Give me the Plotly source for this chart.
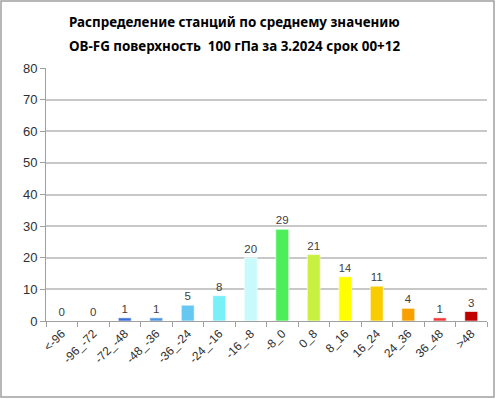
import plotly.graph_objects as go

categories = ["<-96", "-96_-72", "-72_-48", "-48_-36", "-36_-24", "-24_-16", "-16_-8",
              "-8_0", "0_8", "8_16", "16_24", "24_36", "36_48", ">48"]
counts = [0, 0, 1, 1, 5, 8, 20, 29, 21, 14, 11, 4, 1, 3]
bar_colors = ["#3a6fd8", "#3a6fd8", "#3a6fd8", "#4f94e0", "#66c8f0", "#78f0f8", "#c8fafc",
              "#4cee5a", "#c8f040", "#ffff00", "#f8cc00", "#f8a000", "#f03838", "#c00000"]
y_ticks = [0, 10, 20, 30, 40, 50, 60, 70, 80]
title_lines = ["Распределение станций по среднему значению",
               "OB-FG поверхность  100 гПа за 3.2024 срок 00+12"]

W, H = 496, 399
ml, mr, mt, mb = 46, 9, 68, 78
pw, ph = W - ml - mr, H - mt - mb

fig = go.Figure()
fig.add_trace(go.Bar(
    x=categories, y=counts,
    marker=dict(color=bar_colors, line=dict(color="rgba(255,255,255,0.6)", width=1)),
    text=[str(v) for v in counts], textposition="outside",
    textfont=dict(size=11.5, color="#404040", family="Liberation Sans"),
    cliponaxis=False, width=0.41,
))

fig.update_layout(
    width=W, height=H,
    margin=dict(l=ml, r=mr, t=mt, b=mb),
    paper_bgcolor="white", plot_bgcolor="white",
    showlegend=False,
    xaxis=dict(type="category", tickangle=-45, tickson="boundaries",
               ticks="outside", ticklen=5, tickcolor="#a0a0a0",
               showline=True, linecolor="#a0a0a0", linewidth=1,
               tickfont=dict(size=12, color="#303030", family="Liberation Sans"),
               showgrid=False),
    yaxis=dict(range=[0, 80], tickvals=y_ticks, ticks="outside", ticklen=5,
               tickcolor="#a0a0a0", showline=True, linecolor="#a0a0a0", linewidth=1,
               gridcolor="#c8c8c8", gridwidth=1.5, zeroline=False,
               tickfont=dict(size=13, color="#303030", family="Liberation Sans")),
)

for i, (line, ypix) in enumerate(zip(title_lines, [22, 46])):
    fig.add_annotation(text="<b>" + line + "</b>", xref="paper", yref="paper",
                       x=(234 - ml) / pw, y=(H - mb - ypix) / ph,
                       xanchor="center", yanchor="middle", showarrow=False,
                       font=dict(family="Noto Sans", size=13.4, color="#000000"))

fig.add_shape(type="rect", xref="paper", yref="paper",
              x0=(1 - ml) / pw, x1=(W - 2 - ml) / pw,
              y0=(H - mb - (H - 2)) / ph, y1=(H - mb - 1) / ph,
              line=dict(color="#a0a0a0", width=1.5), fillcolor="rgba(0,0,0,0)", layer="below")

fig.write_html("out.html", config={"displayModeBar": False},
               post_script="document.body.style.margin='0px';")
